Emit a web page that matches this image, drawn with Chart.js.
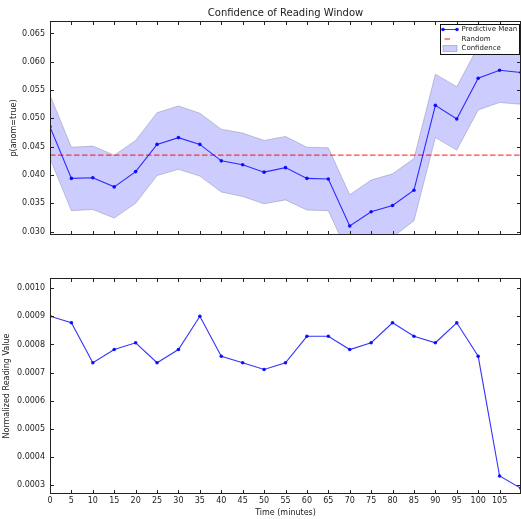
<!DOCTYPE html>
<html>
<head>
<meta charset="utf-8">
<script src="https://cdn.jsdelivr.net/npm/chart.js@4.4.0/dist/chart.umd.min.js"></script>
<style>
  html, body { margin: 0; padding: 0; background: #fff; }
  #wrap { position: relative; width: 521px; height: 519px; overflow: hidden; background: #fff; }
  #wrap canvas { position: absolute; left: 0; }
  #confChart { top: 0; }
  #readChart { top: 250px; }
</style>
</head>
<body>
<div id="wrap">
  <canvas id="confChart" width="521" height="250" style="width:521px;height:250px"></canvas>
  <canvas id="readChart" width="521" height="269" style="width:521px;height:269px"></canvas>
</div>
<script>
// Sampling times of the reading window (minutes)
const minutes = [0, 5, 10, 15, 20, 25, 30, 35, 40, 45, 50, 55, 60, 65, 70, 75, 80, 85, 90, 95, 100, 105, 110];

// Posterior probability of an anomaly at each step
const predictiveMean = [0.0485, 0.0394, 0.0395, 0.0379, 0.0406, 0.0454, 0.0466, 0.0454, 0.0425, 0.0418, 0.0405, 0.0413,
                        0.0394, 0.0393, 0.0310, 0.0335, 0.0346, 0.0373, 0.0523, 0.0499, 0.0571, 0.0585, 0.0581];
const confidenceUpper = [0.0541, 0.0449, 0.0451, 0.0435, 0.0461, 0.0510, 0.0522, 0.0509, 0.0481, 0.0474, 0.0461, 0.0468,
                         0.0449, 0.0448, 0.0365, 0.0391, 0.0402, 0.0429, 0.0578, 0.0556, 0.0627, 0.0641, 0.0638];
const confidenceLower = [0.0429, 0.0337, 0.0339, 0.0324, 0.0350, 0.0399, 0.0410, 0.0398, 0.0370, 0.0362, 0.0349, 0.0356,
                         0.0338, 0.0337, 0.0255, 0.0279, 0.0290, 0.0319, 0.0466, 0.0444, 0.0515, 0.0528, 0.0525];
// Chance level: one window out of 23
const randomLevel = 0.0435;

// Normalized sensor reading at each step
const readingValue = [0.000900, 0.000877, 0.000735, 0.000782, 0.000806, 0.000735, 0.000782, 0.000900, 0.000758, 0.000735,
                      0.000711, 0.000735, 0.000829, 0.000829, 0.000782, 0.000806, 0.000877, 0.000829, 0.000806, 0.000877,
                      0.000758, 0.000333, 0.000289];

// Tick labels
const timeTicks = [0, 5, 10, 15, 20, 25, 30, 35, 40, 45, 50, 55, 60, 65, 70, 75, 80, 85, 90, 95, 100, 105];
const probTicks = [0.030, 0.035, 0.040, 0.045, 0.050, 0.055, 0.060, 0.065];
const readingTicks = [0.0003, 0.0004, 0.0005, 0.0006, 0.0007, 0.0008, 0.0009, 0.0010];

const FONT = "'DejaVu Sans', 'Liberation Sans', sans-serif";
const TEXT = '#222';
const LINE_BLUE = 'rgba(0,0,255,0.8)';
const pts = vals => minutes.map((m, i) => ({ x: m, y: vals[i] }));
const setTicks = list => scale => { scale.ticks = list.map(v => ({ value: v })); };

// Axes frame plus inward tick marks on all four sides
const frameTicks = {
  id: 'frameTicks',
  afterDatasetsDraw(chart) {
    const { ctx, chartArea: a, scales: { x, y } } = chart;
    const len = 4;
    ctx.save();
    ctx.strokeStyle = TEXT;
    ctx.lineWidth = 1;
    ctx.beginPath();
    x.ticks.forEach(t => {
      const px = Math.round(x.getPixelForValue(t.value)) + 0.5;
      ctx.moveTo(px, a.top); ctx.lineTo(px, a.top + len);
      ctx.moveTo(px, a.bottom); ctx.lineTo(px, a.bottom - len);
    });
    y.ticks.forEach(t => {
      const py = Math.round(y.getPixelForValue(t.value)) + 0.5;
      ctx.moveTo(a.left, py); ctx.lineTo(a.left + len, py);
      ctx.moveTo(a.right, py); ctx.lineTo(a.right - len, py);
    });
    ctx.stroke();
    ctx.strokeRect(Math.round(a.left) + 0.5, Math.round(a.top) + 0.5,
                   Math.round(a.right - a.left) - 1, Math.round(a.bottom - a.top) - 1);
    ctx.restore();
  }
};

// Title above the confidence panel
const panelTitle = {
  id: 'panelTitle',
  afterDraw(chart, args, opts) {
    const { ctx, chartArea: a } = chart;
    ctx.save();
    ctx.font = `10px ${FONT}`;
    ctx.fillStyle = TEXT;
    ctx.textAlign = 'center';
    ctx.textBaseline = 'middle';
    ctx.fillText(opts.text, (a.left + a.right) / 2, 13);
    ctx.restore();
  }
};

// Boxed legend in the upper right corner of the confidence panel
const boxLegend = {
  id: 'boxLegend',
  afterDraw(chart) {
    const { ctx, chartArea: a } = chart;
    const x0 = a.right - 80.5, y0 = 24.5, w = 79, h = 30;
    ctx.save();
    ctx.fillStyle = '#fff';
    ctx.fillRect(x0, y0, w, h);
    ctx.strokeStyle = '#111';
    ctx.lineWidth = 1;
    ctx.strokeRect(x0, y0, w, h);
    const hx0 = x0 + 2.5, hx1 = x0 + 16.5, tx = x0 + 21;
    const rows = [y0 + 5, y0 + 14.5, y0 + 24];
    // Predictive Mean handle
    ctx.strokeStyle = LINE_BLUE;
    ctx.beginPath(); ctx.moveTo(hx0, rows[0]); ctx.lineTo(hx1, rows[0]); ctx.stroke();
    ctx.fillStyle = 'rgba(0,0,255,0.9)';
    [hx0, hx1].forEach(px => { ctx.beginPath(); ctx.arc(px, rows[0], 1.8, 0, Math.PI * 2); ctx.fill(); });
    // Random handle
    ctx.strokeStyle = 'rgba(255,0,0,0.75)';
    ctx.lineWidth = 1.3;
    ctx.beginPath(); ctx.moveTo(hx0 + 1.5, rows[1]); ctx.lineTo(hx0 + 7, rows[1]); ctx.stroke();
    // Confidence handle
    ctx.fillStyle = 'rgba(0,0,255,0.2)';
    ctx.fillRect(hx0, rows[2] - 3, hx1 - hx0, 6);
    ctx.strokeStyle = 'rgba(110,110,140,0.5)';
    ctx.lineWidth = 0.8;
    ctx.strokeRect(hx0, rows[2] - 3, hx1 - hx0, 6);
    // Labels
    ctx.fillStyle = TEXT;
    ctx.font = `7px ${FONT}`;
    ctx.textAlign = 'left';
    ctx.textBaseline = 'middle';
    ctx.fillText('Predictive Mean', tx, rows[0]);
    ctx.fillText('Random', tx, rows[1]);
    ctx.fillText('Confidence', tx, rows[2]);
    ctx.restore();
  }
};

// Fixed axis box sizes; drop the side padding reserved for edge labels
const fixY = s => { s.width = 50; s.paddingLeft = 0; s.paddingRight = 0; };
const fixX = h => s => { s.height = h; s.paddingLeft = 0; s.paddingRight = 0; };

const yAxisBase = (ticks, fmt, title, titlePad) => ({
  type: 'linear',
  position: 'left',
  afterFit: fixY,
  afterBuildTicks: setTicks(ticks),
  grid: { display: false, drawTicks: false },
  border: { display: false },
  ticks: { font: { size: 8, family: FONT }, color: TEXT, padding: 5, callback: v => Number(v).toFixed(fmt) },
  title: { display: true, text: title, font: { size: 8, family: FONT }, color: TEXT, padding: { top: titlePad, bottom: 0 } }
});

new Chart(document.getElementById('confChart'), {
  type: 'line',
  data: {
    datasets: [
      { label: 'Predictive Mean', data: pts(predictiveMean), borderColor: LINE_BLUE, borderWidth: 1.1,
        pointRadius: 1.8, pointBackgroundColor: 'rgba(0,0,255,0.9)', pointBorderWidth: 0, tension: 0, fill: false },
      { label: 'Random', data: minutes.map(m => ({ x: m, y: randomLevel })), borderColor: 'rgba(255,0,0,0.75)',
        borderWidth: 1.3, borderDash: [5.5, 2.5], pointRadius: 0, fill: false },
      { label: 'Lower', data: pts(confidenceLower), borderColor: 'rgba(110,110,140,0.45)', borderWidth: 0.8,
        pointRadius: 0, tension: 0, fill: false },
      { label: 'Confidence', data: pts(confidenceUpper), borderColor: 'rgba(110,110,140,0.45)', borderWidth: 0.8,
        pointRadius: 0, tension: 0, fill: { target: 2 }, backgroundColor: 'rgba(0,0,255,0.2)' }
    ]
  },
  options: {
    responsive: false,
    animation: false,
    events: [],
    layout: { autoPadding: false, padding: { top: 21, right: 0, bottom: 0, left: 0 } },
    plugins: { legend: { display: false }, tooltip: { enabled: false }, title: { display: false },
               panelTitle: { text: 'Confidence of Reading Window' } },
    scales: {
      x: {
        type: 'linear', min: 0, max: 110,
        afterFit: fixX(15),
        afterBuildTicks: setTicks(timeTicks),
        grid: { display: false, drawTicks: false },
        border: { display: false },
        ticks: { display: false }
      },
      y: Object.assign(yAxisBase(probTicks, 3, 'p(anom=true)', 9), { min: 0.0294, max: 0.0672 })
    }
  },
  plugins: [frameTicks, panelTitle, boxLegend]
});

new Chart(document.getElementById('readChart'), {
  type: 'line',
  data: {
    datasets: [
      { label: 'Reading', data: pts(readingValue), borderColor: LINE_BLUE, borderWidth: 1.1,
        pointRadius: 1.8, pointBackgroundColor: 'rgba(0,0,255,0.9)', pointBorderWidth: 0, tension: 0, fill: false }
    ]
  },
  options: {
    responsive: false,
    animation: false,
    events: [],
    layout: { autoPadding: false, padding: { top: 28, right: 0, bottom: 0, left: 0 } },
    plugins: { legend: { display: false }, tooltip: { enabled: false }, title: { display: false } },
    scales: {
      x: {
        type: 'linear', min: 0, max: 110,
        afterFit: fixX(25),
        afterBuildTicks: setTicks(timeTicks),
        grid: { display: false, drawTicks: false },
        border: { display: false },
        ticks: { font: { size: 8, family: FONT }, color: TEXT, padding: 2, maxRotation: 0, autoSkip: false },
        title: { display: true, text: 'Time (minutes)', font: { size: 8, family: FONT }, color: TEXT, padding: { top: 0, bottom: 1 } }
      },
      y: Object.assign(yAxisBase(readingTicks, 4, 'Normalized Reading Value', 2), { min: 0.000269, max: 0.001036 })
    }
  },
  plugins: [frameTicks]
});
</script>
</body>
</html>
